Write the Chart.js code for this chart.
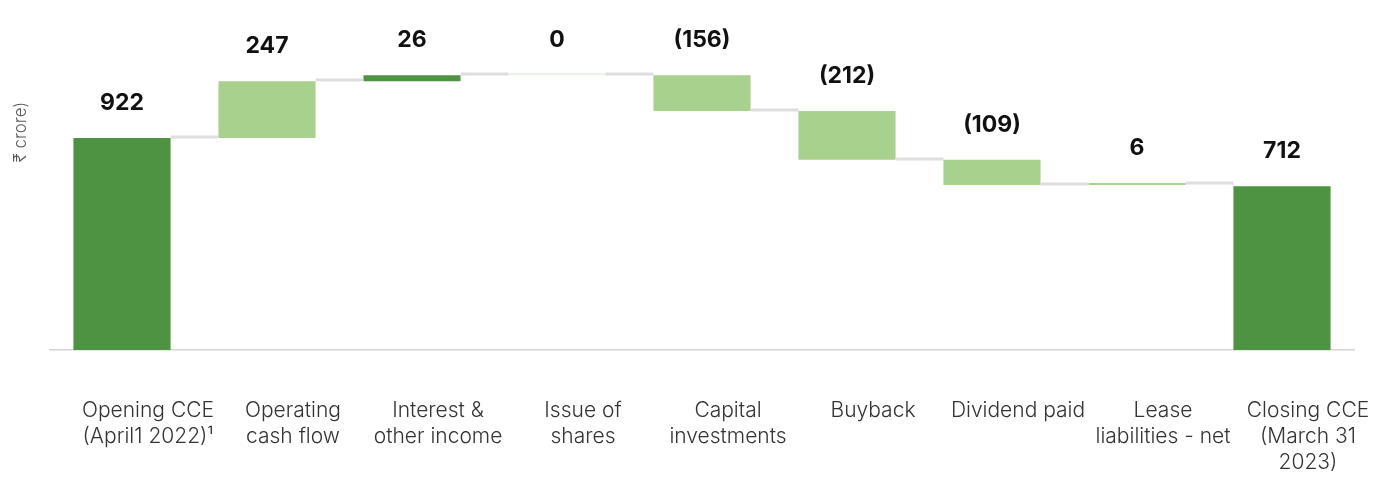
<!DOCTYPE html>
<html>
<head>
<meta charset="utf-8">
<script src="https://cdn.jsdelivr.net/npm/chart.js@4"></script>
<style>
  html, body { margin: 0; padding: 0; background: #fff; }
  #wrap { width: 1378px; height: 477px; position: relative; }
</style>
</head>
<body>
<div id="wrap"><canvas id="myChart"></canvas></div>
<script>
// cash & cash equivalents bridge, FY23 (₹ crore)
const categories = [
    ["Opening CCE", "(April1 2022)¹"],
    ["Operating", "cash flow"],
    ["Interest &", "other income"],
    ["Issue of", "shares"],
    ["Capital", "investments"],
    ["Buyback"],
    ["Dividend paid"],
    ["Lease", "liabilities - net"],
    ["Closing CCE", "(March 31", "2023)"]
];
const movements = [922, 247, 26, 0, -156, -212, -109, 6, 712];
const valueLabels = ["922", "247", "26", "0", "(156)", "(212)", "(109)", "6", "712"];
const isTotal = [true, false, false, false, false, false, false, false, true];

const darkGreen = '#4e9341';
const lightGreen = '#a9d18e';

// build floating bars [start, end] from the movements
let floating = [];
let running = 0;
for (var i = 0; i < movements.length; i++) {
    if (isTotal[i]) {
        floating.push([0, movements[i]]);
        running = movements[i];
    } else {
        floating.push([running, running + movements[i]]);
        running += movements[i];
    }
}

let barColors = floating.map(function(b, i) {
    if (isTotal[i] || i == 2) return darkGreen;
    if (movements[i] == 0) return '#e8f2e2';
    return lightGreen;
});

// grey step lines between bars + value labels on top
const bridgePlugin = {
    id: 'bridge',
    afterDatasetsDraw(chart) {
        const ctx = chart.ctx;
        const meta = chart.getDatasetMeta(0);
        const y = chart.scales.y;
        ctx.save();
        ctx.strokeStyle = '#dedede';
        ctx.lineWidth = 3;
        for (var i = 0; i < meta.data.length - 1; i++) {
            let a = meta.data[i], b = meta.data[i + 1];
            let py = Math.round(y.getPixelForValue(floating[i][1])) - 1;
            ctx.beginPath();
            ctx.moveTo(a.x + a.width / 2, py);
            ctx.lineTo(b.x - b.width / 2, py);
            ctx.stroke();
        }
        ctx.fillStyle = '#111';
        ctx.font = '700 23px Inter';
        ctx.textAlign = 'center';
        ctx.textBaseline = 'middle';
        for (var j = 0; j < meta.data.length; j++) {
            let top = y.getPixelForValue(Math.max(floating[j][0], floating[j][1]));
            ctx.fillText(valueLabels[j], meta.data[j].x, top - 35);
        }
        // axis unit label
        ctx.translate(21, 132);
        ctx.rotate(-Math.PI / 2);
        ctx.fillStyle = '#555';
        ctx.font = '300 17px Inter';
        ctx.fillText('₹ crore)', 0, 0);
        ctx.restore();
    }
};

const ctx = document.getElementById('myChart').getContext('2d');
new Chart(ctx, {
    type: 'bar',
    data: {
        labels: categories,
        datasets: [{
            data: floating,
            backgroundColor: barColors,
            borderWidth: 0,
            minBarLength: 2,
            categoryPercentage: 1,
            barPercentage: 0.67
        }]
    },
    options: {
        responsive: true,
        maintainAspectRatio: false,
        animation: false,
        layout: {
            padding: { left: 49.5, right: 23.5, top: 20, bottom: 0 }
        },
        plugins: {
            legend: { display: false },
            tooltip: { enabled: false }
        },
        scales: {
            x: {
                grid: { display: false, drawTicks: true, tickLength: 45 },
                border: { display: true, color: '#d4d4d4', width: 1.5 },
                ticks: {
                    autoSkip: false,
                    maxRotation: 0,
                    padding: 3,
                    labelOffset: 26,
                    color: '#333',
                    font: { family: 'Inter', size: 21, weight: '300', lineHeight: 1.24 }
                },
                afterFit: function(scale) {
                    scale.height = 127;
                    // labels may spill into the side margins
                    scale.paddingLeft = 0;
                    scale.paddingRight = 0;
                }
            },
            y: {
                display: false,
                min: 0,
                max: 1435
            }
        }
    },
    plugins: [bridgePlugin]
});
</script>
</body>
</html>
